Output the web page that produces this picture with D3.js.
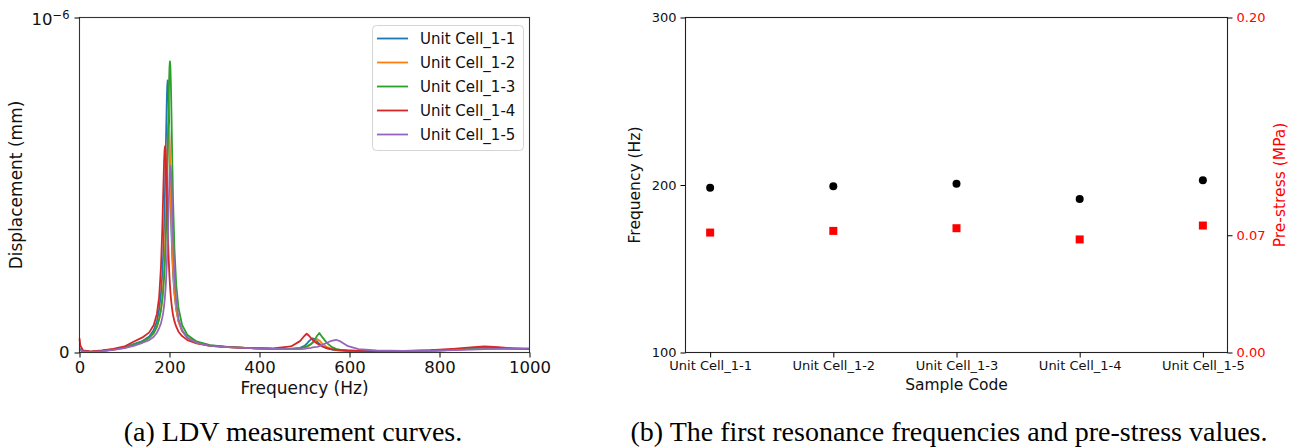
<!DOCTYPE html>
<html>
<head>
<meta charset="utf-8">
<script src="https://cdn.jsdelivr.net/npm/d3@7"></script>
<style>
  body { margin: 0; background: #fff; }
  svg { display: block; font-family: "DejaVu Sans", sans-serif; }
</style>
</head>
<body>
<svg id="chart" width="1290" height="448"></svg>
<script>
// LDV curves: shared frequency grid (Hz)
const freqHz = [0, 2, 8, 25, 50, 75, 100, 120, 140, 155,
  165, 172, 177, 181, 184, 186, 188, 189, 190, 191,
  192, 194, 195, 196, 197, 198, 199, 200, 201, 202,
  203, 204, 206, 208, 211, 215, 220, 228, 240, 260,
  290, 330, 380, 430, 470, 490, 500, 505, 510, 515,
  518, 523, 528, 533, 540, 550, 560, 570, 580, 595,
  620, 660, 720, 780, 830, 870, 900, 930, 960, 1000];

// displacement, in units of 1e-6 mm
const cell11 = [.012, .008, .004, .002, .005, .009, .015, .025, .034, .048,
  .067, .093, .128, .174, .232, .291, .372, .424, .483, .549,
  .621, .754, .796, .812, .796, .754, .692, .621, .549, .483,
  .424, .372, .291, .232, .174, .128, .093, .066, .045, .030,
  .021, .016, .013, .011, .011, .014, .020, .026, .034, .040,
  .042, .040, .033, .026, .018, .012, .009, .007, .006, .005,
  .004, .004, .004, .005, .008, .011, .012, .012, .011, .011];
const cell12 = [.010, .007, .004, .002, .005, .008, .014, .022, .031, .043,
  .057, .076, .100, .129, .165, .200, .248, .279, .316, .359,
  .408, .524, .583, .634, .670, .683, .670, .634, .583, .524,
  .464, .408, .316, .248, .181, .129, .092, .064, .044, .029,
  .020, .016, .013, .011, .011, .012, .015, .017, .020, .025,
  .028, .035, .040, .036, .026, .016, .011, .008, .007, .005,
  .004, .004, .004, .005, .008, .011, .012, .012, .011, .011];
const cell13 = [.011, .007, .004, .002, .005, .009, .015, .023, .033, .045,
  .059, .078, .100, .126, .156, .184, .223, .247, .275, .309,
  .349, .452, .515, .587, .664, .740, .806, .852, .869, .852,
  .806, .740, .587, .452, .309, .202, .132, .082, .052, .033,
  .022, .017, .013, .011, .011, .013, .016, .018, .022, .026,
  .030, .038, .050, .058, .045, .028, .017, .011, .008, .006,
  .005, .004, .004, .006, .009, .012, .015, .014, .012, .011];
const cell14 = [.042, .020, .006, .003, .006, .011, .018, .032, .045, .060,
  .082, .115, .165, .254, .369, .472, .572, .603, .615, .603,
  .572, .472, .419, .369, .325, .287, .254, .226, .202, .182,
  .165, .151, .128, .111, .093, .077, .062, .049, .037, .027,
  .020, .016, .013, .012, .018, .034, .050, .056, .050, .042,
  .038, .032, .027, .023, .018, .013, .010, .008, .007, .006,
  .005, .004, .005, .007, .011, .015, .018, .016, .013, .010];
const cell15 = [.010, .007, .003, .002, .004, .008, .013, .020, .029, .037,
  .047, .059, .073, .087, .104, .119, .140, .153, .168, .186,
  .207, .262, .297, .336, .381, .429, .477, .519, .548, .558,
  .548, .519, .429, .336, .232, .153, .101, .065, .043, .029,
  .020, .016, .013, .011, .010, .010, .011, .012, .013, .014,
  .015, .016, .017, .019, .023, .029, .035, .038, .033, .020,
  .010, .006, .005, .005, .007, .009, .010, .011, .012, .012];

const seriesNames = ["Unit Cell_1-1", "Unit Cell_1-2", "Unit Cell_1-3", "Unit Cell_1-4", "Unit Cell_1-5"];
const seriesColors = ["#1f77b4", "#ff7f0e", "#2ca02c", "#d62728", "#9467bd"];
const hzTicks = [0, 200, 400, 600, 800, 1000];

// first resonance + pre-stress per sample
const sampleCodes = ["Unit Cell_1-1", "Unit Cell_1-2", "Unit Cell_1-3", "Unit Cell_1-4", "Unit Cell_1-5"];
const firstFreq = [198.3, 199.3, 200.7, 191.7, 202.9];
const preStress = [0.0716, 0.0726, 0.0742, 0.0675, 0.0758];
const freqTicks = [100, 200, 300];
const stressTicks = [0, 0.07, 0.2];

const svg = d3.select("#chart");

// ---------- (a) LDV curves ----------
const x = d3.scaleLinear().domain([0, 1000]).range([79.5, 529.5]);
const y = d3.scaleLinear().domain([0, 1]).range([352.5, 17.5]);

const gA = svg.append("g");

const line = d3.line()
  .x((d, i) => x(freqHz[i]))
  .y(d => y(d));

[cell11, cell12, cell13, cell14, cell15].forEach((vals, k) => {
  gA.append("path")
    .attr("d", line(vals))
    .attr("fill", "none")
    .attr("stroke", seriesColors[k])
    .attr("stroke-width", 1.8)
    .attr("stroke-linejoin", "round");
});

gA.append("rect")
  .attr("x", 79.5).attr("y", 17.5)
  .attr("width", 450).attr("height", 335)
  .attr("fill", "none").attr("stroke", "#333").attr("stroke-width", 1.1);

const axA = gA.append("g")
  .attr("transform", "translate(0,352.5)")
  .call(d3.axisBottom(x).tickValues(hzTicks).tickSize(5).tickPadding(4).tickFormat(d3.format("d")));
axA.select(".domain").remove();
axA.selectAll("text").attr("font-size", 16.5).attr("fill", "#111").attr("font-family", "DejaVu Sans");

const ayA = gA.append("g")
  .attr("transform", "translate(79.5,0)")
  .call(d3.axisLeft(y).tickValues([0, 1]).tickSize(5).tickPadding(5).tickFormat(d => d === 0 ? "0" : ""));
ayA.select(".domain").remove();
ayA.selectAll("text").attr("font-size", 16.5).attr("fill", "#111").attr("font-family", "DejaVu Sans");
ayA.selectAll(".tick").filter(d => d === 1).select("text")
  .attr("dy", "0.45em")
  .call(t => {
    t.append("tspan").text("10");
    t.append("tspan").text("\u22126").attr("font-size", 11.5).attr("dy", "-0.55em");
  });

gA.append("text")
  .attr("x", x(500)).attr("y", 394)
  .attr("text-anchor", "middle").attr("font-size", 17).attr("fill", "#111")
  .text("Frequency (Hz)");
gA.append("text")
  .attr("transform", "translate(22,185) rotate(-90)")
  .attr("text-anchor", "middle").attr("font-size", 17).attr("fill", "#111")
  .text("Displacement (mm)");

// legend
const lg = gA.append("g");
lg.append("rect")
  .attr("x", 372.5).attr("y", 25.5).attr("width", 151).attr("height", 125).attr("rx", 4)
  .attr("fill", "#fff").attr("fill-opacity", 0.8).attr("stroke", "#d4d4d4");
seriesNames.forEach((name, k) => {
  const yy = 38.5 + k * 24;
  lg.append("line").attr("x1", 377).attr("x2", 408).attr("y1", yy).attr("y2", yy)
    .attr("stroke", seriesColors[k]).attr("stroke-width", 1.8);
  lg.append("text").attr("x", 420).attr("y", yy).attr("dy", "0.36em")
    .attr("font-size", 15).attr("fill", "#111").text(name);
});

gA.append("text")
  .attr("x", 293).attr("y", 441)
  .attr("text-anchor", "middle").attr("font-family", "Liberation Serif, serif")
  .attr("font-size", 28).attr("fill", "#000")
  .text("(a) LDV measurement curves.");

// ---------- (b) first resonance & pre-stress ----------
const xr = d3.scaleLinear().domain([-0.2, 4.2]).range([685.5, 1227.5]);
const yf = d3.scaleLinear().domain([100, 300]).range([352.5, 17.5]);
const ys = d3.scaleLinear().domain([0, 0.2]).range([352.5, 17.5]);

const gB = svg.append("g");

gB.append("rect")
  .attr("x", 685.5).attr("y", 17.5).attr("width", 542).attr("height", 335)
  .attr("fill", "none").attr("stroke", "#222").attr("stroke-width", 1.1);

const axB = gB.append("g")
  .attr("transform", "translate(0,352.5)")
  .call(d3.axisBottom(xr).tickValues([0, 1, 2, 3, 4]).tickSize(5).tickPadding(3).tickFormat(i => sampleCodes[i]));
axB.select(".domain").remove();
axB.selectAll("text").attr("font-size", 13).attr("fill", "#111").attr("font-family", "DejaVu Sans");

const ayB = gB.append("g")
  .attr("transform", "translate(685.5,0)")
  .call(d3.axisLeft(yf).tickValues(freqTicks).tickSize(5).tickPadding(4).tickFormat(d3.format("d")));
ayB.select(".domain").remove();
ayB.selectAll("text").attr("font-size", 13).attr("fill", "#111").attr("font-family", "DejaVu Sans");

const ay2B = gB.append("g")
  .attr("transform", "translate(1227.5,0)")
  .call(d3.axisRight(ys).tickValues(stressTicks).tickSize(5).tickPadding(4).tickFormat(d3.format(".2f")));
ay2B.select(".domain").remove();
ay2B.selectAll("text").attr("font-size", 13).attr("fill", "red").attr("font-family", "DejaVu Sans");

gB.selectAll("rect.ps").data(preStress).enter().append("rect")
  .attr("class", "ps")
  .attr("x", (d, i) => xr(i) - 4).attr("y", d => ys(d) - 4)
  .attr("width", 8).attr("height", 8)
  .attr("fill", "red");

gB.selectAll("circle.ff").data(firstFreq).enter().append("circle")
  .attr("class", "ff")
  .attr("cx", (d, i) => xr(i)).attr("cy", d => yf(d))
  .attr("r", 4).attr("fill", "#000");

gB.append("text")
  .attr("x", xr(2)).attr("y", 390)
  .attr("text-anchor", "middle").attr("font-size", 15.5).attr("fill", "#111")
  .text("Sample Code");
gB.append("text")
  .attr("transform", "translate(640,185) rotate(-90)")
  .attr("text-anchor", "middle").attr("font-size", 15.5).attr("fill", "#111")
  .text("Frequency (Hz)");
gB.append("text")
  .attr("transform", "translate(1285,185) rotate(-90)")
  .attr("text-anchor", "middle").attr("font-size", 15.5).attr("fill", "red")
  .text("Pre-stress (MPa)");

gB.append("text")
  .attr("x", 949).attr("y", 441)
  .attr("text-anchor", "middle").attr("font-family", "Liberation Serif, serif")
  .attr("font-size", 28).attr("fill", "#000")
  .text("(b) The first resonance frequencies and pre-stress values.");
</script>
</body>
</html>
